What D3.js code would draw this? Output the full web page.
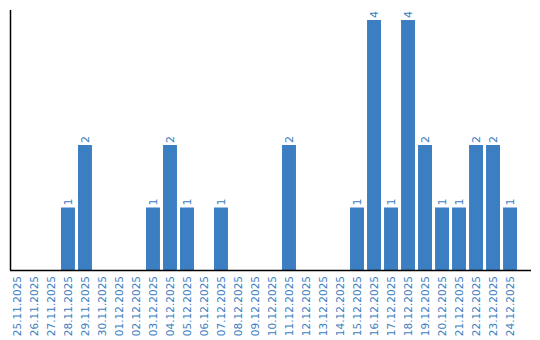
<!DOCTYPE html>
<html>
<head>
<meta charset="utf-8">
<script src="https://cdn.jsdelivr.net/npm/d3@7"></script>
<style>
 body { margin: 0; background: #fff; }
 text { font-family: "DejaVu Sans", sans-serif; }
</style>
</head>
<body>
<div id="chart"></div>
<script>
const dates = ["25.11.2025", "26.11.2025", "27.11.2025", "28.11.2025", "29.11.2025", "30.11.2025",
 "01.12.2025", "02.12.2025", "03.12.2025", "04.12.2025", "05.12.2025", "06.12.2025", "07.12.2025",
 "08.12.2025", "09.12.2025", "10.12.2025", "11.12.2025", "12.12.2025", "13.12.2025", "14.12.2025",
 "15.12.2025", "16.12.2025", "17.12.2025", "18.12.2025", "19.12.2025", "20.12.2025", "21.12.2025",
 "22.12.2025", "23.12.2025", "24.12.2025"];
const counts = [0, 0, 0, 1, 2, 0, 0, 0, 1, 2, 1, 0, 1, 0, 0, 0, 2, 0, 0, 0, 1, 4, 1, 4, 2, 1, 1, 2, 2, 1];

const data = dates.map((d, i) => ({ date: d, value: counts[i] }));
const barColor = "#3b7ec2";

const svg = d3.select("#chart")
 .append("svg")
 .attr("width", 540)
 .attr("height", 340);

const x = d3.scaleBand()
 .domain(dates)
 .range([10, 517])
 .paddingInner(0.18)
 .paddingOuter(0);

const y = d3.scaleLinear()
 .domain([0, 4])
 .range([270, 20]);

svg.selectAll("rect.bar")
 .data(data.filter((d) => d.value > 0))
 .enter()
 .append("rect")
 .attr("class", "bar")
 .attr("x", (d) => x(d.date))
 .attr("y", (d) => y(d.value))
 .attr("width", x.bandwidth())
 .attr("height", (d) => y(0) - y(d.value))
 .style("fill", barColor);

svg.selectAll("text.val")
 .data(data.filter((d) => d.value > 0))
 .enter()
 .append("text")
 .attr("class", "val")
 .attr("transform", (d) => `translate(${x(d.date) + x.bandwidth() / 2 + 4},${y(d.value) - 2}) rotate(-90)`)
 .style("font-size", "11px")
 .style("fill", barColor)
 .text((d) => d.value);

// x labels
svg.selectAll("text.lbl")
 .data(dates)
 .enter()
 .append("text")
 .attr("class", "lbl")
 .attr("text-anchor", "end")
 .attr("transform", (d) => `translate(${x(d) + x.bandwidth() / 2 + 4},276) rotate(-90)`)
 .style("font-size", "10.5px")
 .style("fill", barColor)
 .text((d) => d);

// axes lines
svg.append("line")
 .attr("x1", 10.5).attr("x2", 10.5)
 .attr("y1", 10).attr("y2", 270)
 .style("stroke", "#000")
 .style("stroke-width", 1.5);

svg.append("line")
 .attr("x1", 10).attr("x2", 531)
 .attr("y1", 270.5).attr("y2", 270.5)
 .style("stroke", "#000")
 .style("stroke-width", 1.5);
</script>
</body>
</html>
